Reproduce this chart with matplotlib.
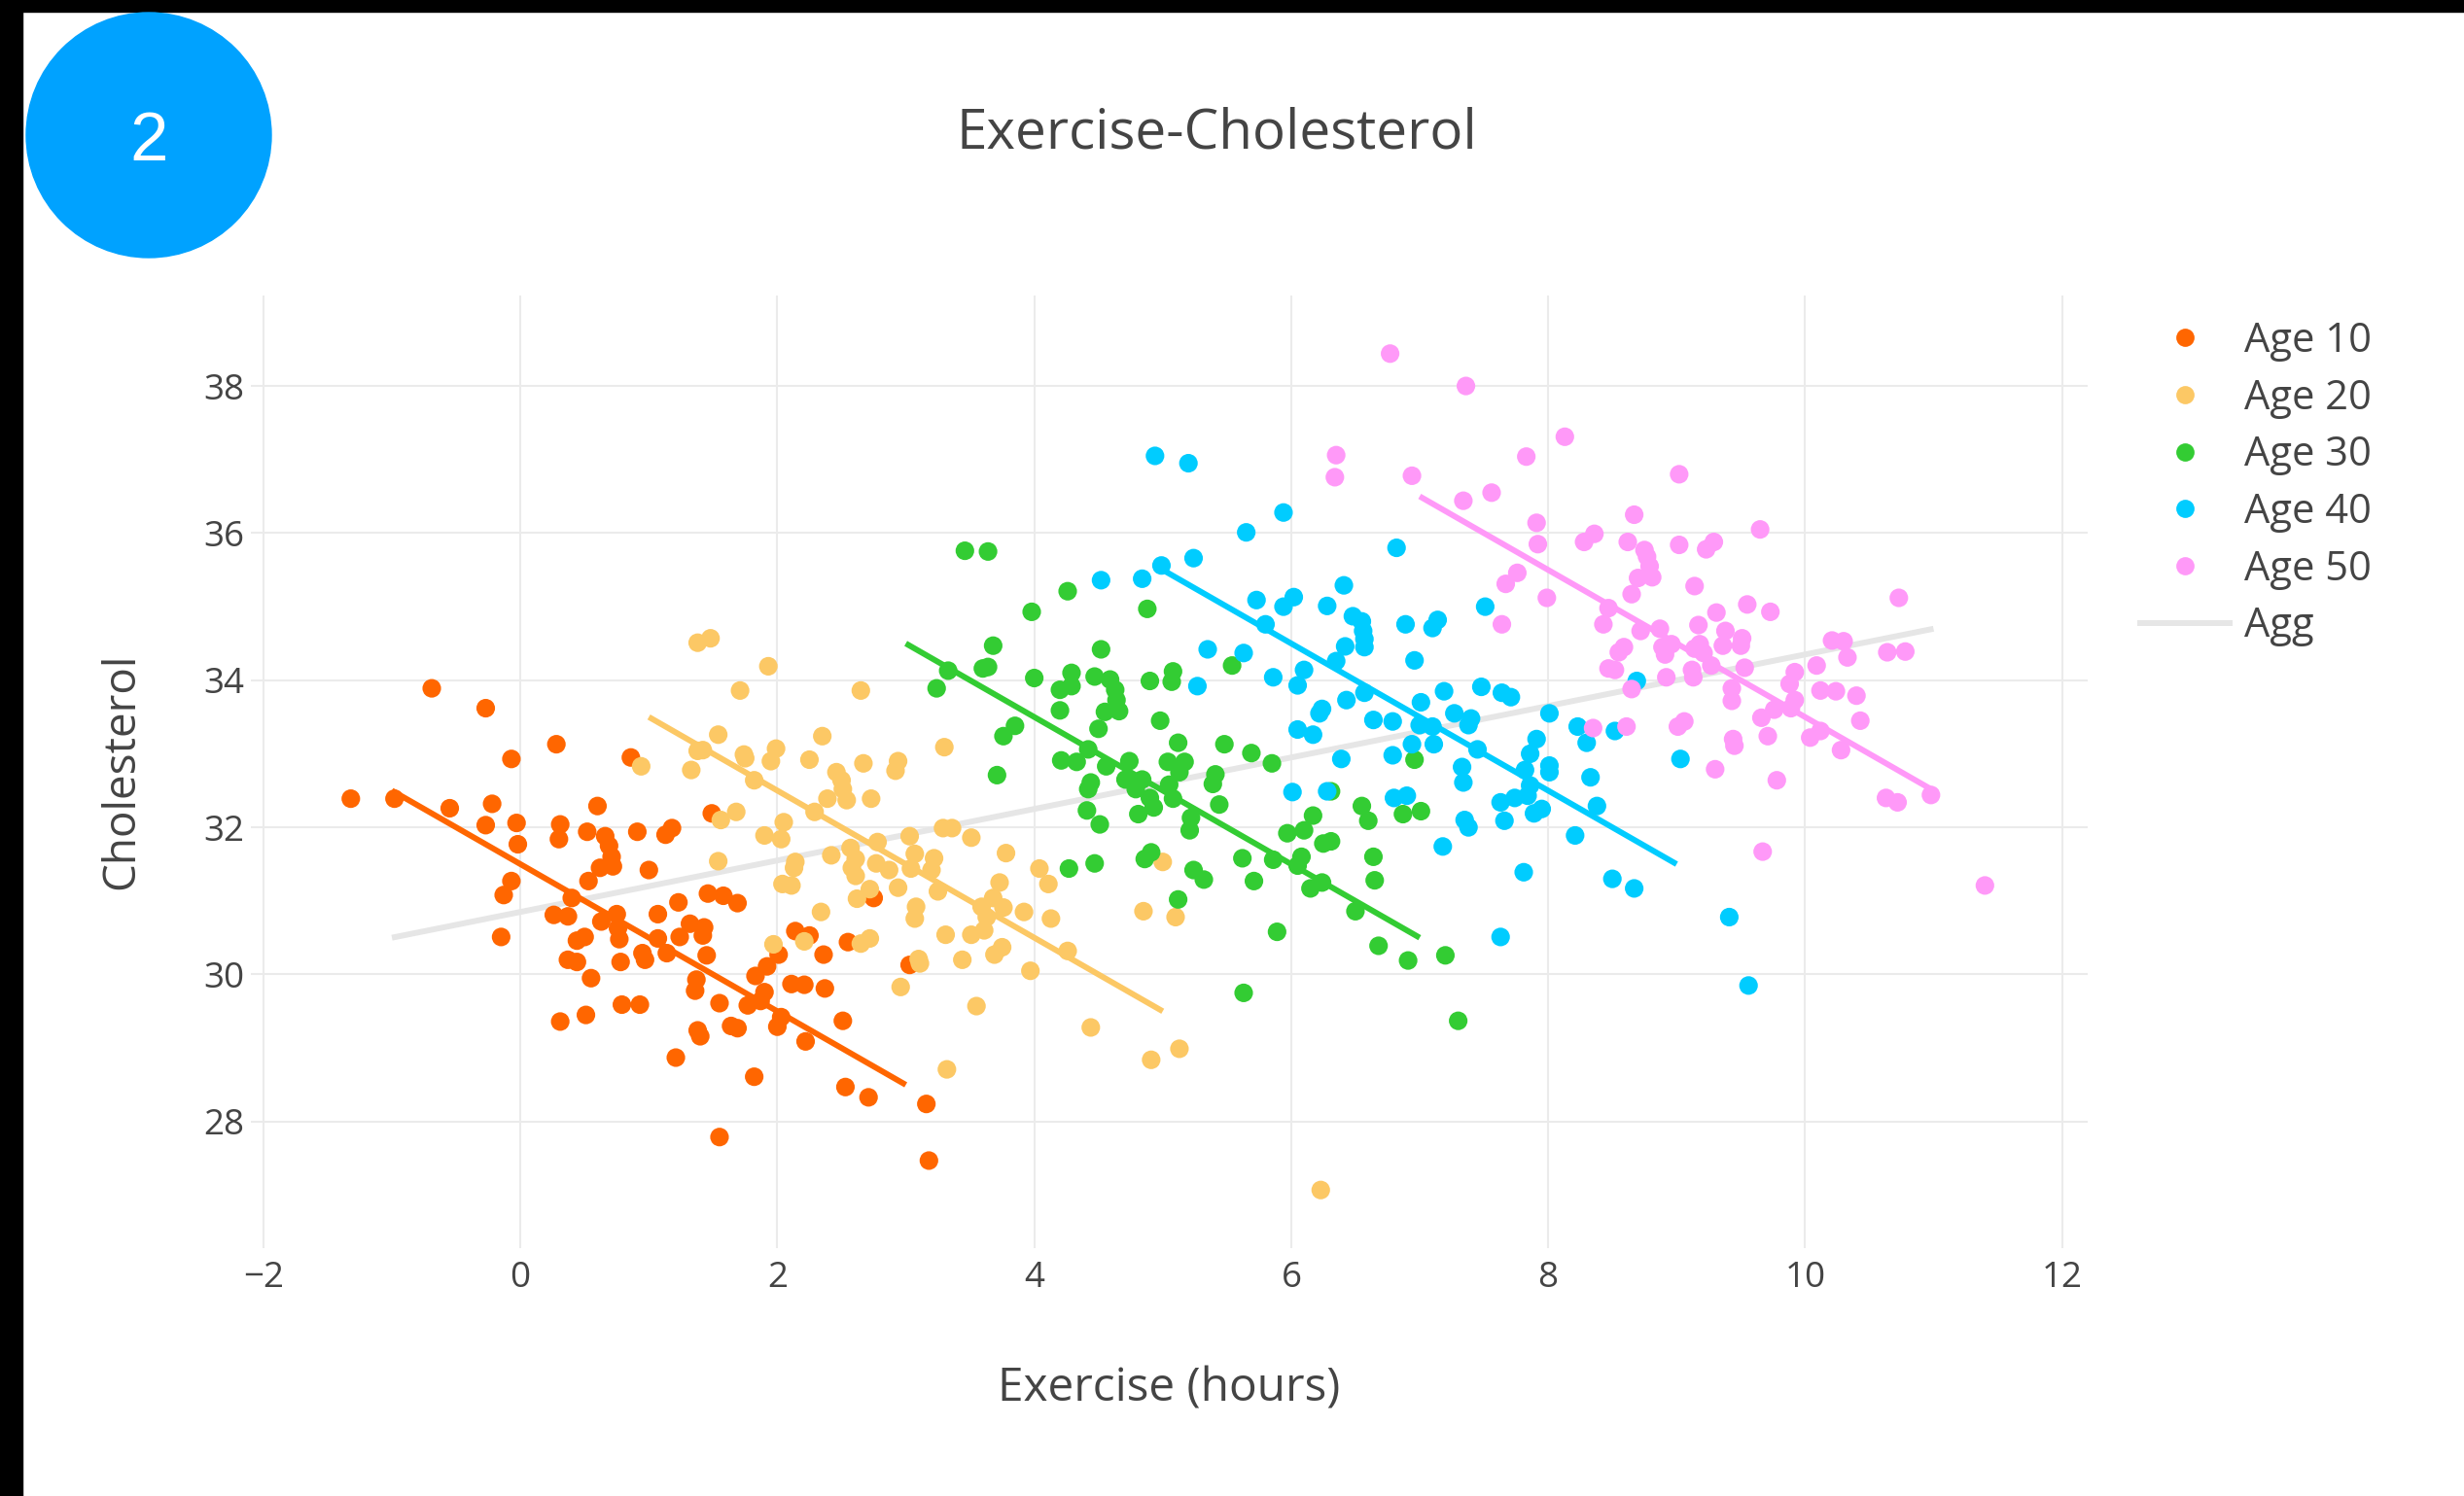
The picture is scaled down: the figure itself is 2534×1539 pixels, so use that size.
import matplotlib
matplotlib.use('Agg')
import matplotlib.pyplot as plt
from matplotlib.patches import Rectangle, Ellipse
from matplotlib.lines import Line2D

plt.rcParams['font.family'] = ['Open Sans', 'DejaVu Sans']

# ---------------- data ----------------
age10 = [(-1.32,32.39),(-0.98,32.39),(-0.69,33.89),(-0.27,33.62),(-0.55,32.26),(-0.22,32.32),(-0.07,32.93),(0.28,33.13),
         (-0.27,32.03),(-0.03,32.06),(-0.02,31.77),(-0.07,31.27),(-0.13,31.08),(-0.15,30.51),(0.31,32.04),(0.30,31.84),
         (0.52,31.94),(0.60,32.29),(0.86,32.95),(0.66,31.88),(0.69,31.75),(0.71,31.60),(0.62,31.45),(0.72,31.47),
         (0.53,31.27),(0.91,31.94),(1.13,31.90),(1.18,31.99),(1.00,31.42),(1.49,32.19),(0.40,31.04),(0.26,30.81),
         (0.37,30.79),(0.63,30.72),(0.75,30.82),(0.76,30.63),(0.77,30.48),(0.44,30.46),(0.50,30.51),(0.37,30.20),
         (0.44,30.17),(0.55,29.95),(0.78,30.17),(0.31,29.36),(0.51,29.45),(0.79,29.59),(0.93,29.59),(0.95,30.29),
         (0.97,30.20),(1.07,30.82),(1.07,30.49),(1.14,30.29),(1.23,30.98),(1.24,30.51),(1.32,30.69),(1.43,30.64),
         (1.42,30.53),(1.45,30.26),(1.46,31.10),(1.58,31.07),(1.69,30.97),(1.21,28.87),(1.37,29.93),(1.36,29.78),
         (1.38,29.24),(1.40,29.16),(1.55,29.61),(1.64,29.30),(1.69,29.27),(1.55,27.79),(1.82,28.61),(1.77,29.58),
         (1.83,29.98),(1.87,29.64),(1.90,29.76),(1.92,30.11),(2.01,30.27),(2.00,29.29),(2.03,29.42),(2.14,30.59),
         (2.25,30.53),(2.11,29.87),(2.21,29.86),(2.36,30.27),(2.37,29.81),(2.22,29.09),(2.51,29.37),(2.53,28.47),
         (2.71,28.33),(2.55,30.44),(2.75,31.04),(3.03,30.13),(3.16,28.24),(3.18,27.47)]

age20 = [(0.94,32.83),(1.38,34.51),(1.48,34.57),(1.93,34.19),(1.71,33.86),(2.65,33.86),(1.54,33.26),(1.38,33.04),
         (1.42,33.05),(1.33,32.78),(1.74,32.99),(1.75,32.94),(1.82,32.64),(1.99,33.07),(1.95,32.90),(2.35,33.24),
         (2.25,32.92),(2.46,32.75),(2.50,32.64),(2.51,32.52),(2.54,32.37),(2.67,32.87),(2.39,32.39),(2.29,32.21),
         (2.73,32.39),(1.68,32.21),(1.56,32.10),(1.54,31.54),(2.05,32.07),(1.90,31.89),(2.03,31.84),(2.14,31.53),
         (2.13,31.45),(2.42,31.62),(2.57,31.72),(2.61,31.57),(2.58,31.45),(2.61,31.34),(2.04,31.23),(2.11,31.21),
         (2.62,31.03),(2.72,31.16),(2.34,30.85),(1.97,30.41),(2.21,30.45),(2.65,30.42),(2.72,30.49),
         (3.30,33.09),(2.94,32.90),(2.92,32.77),(3.03,31.88),(3.29,31.99),(3.36,31.99),(3.51,31.86),(2.78,31.80),
         (3.78,31.65),(3.07,31.64),(3.22,31.58),(2.77,31.51),(2.87,31.42),(3.04,31.44),(3.20,31.42),(2.94,31.18),
         (3.25,31.13),(3.73,31.25),(4.04,31.44),(4.11,31.23),(3.59,30.92),(3.68,31.04),(3.76,30.91),(3.92,30.85),
         (4.13,30.76),(3.08,30.92),(3.07,30.76),(3.63,30.78),(3.61,30.60),(3.51,30.54),(3.31,30.54),(3.75,30.37),
         (3.69,30.27),(3.44,30.20),(3.10,30.21),(3.11,30.15),(4.26,30.32),(3.97,30.05),(2.96,29.83),(3.55,29.57),
         (4.85,30.86),(5.10,30.78),(5.00,31.53),(4.44,29.28),(3.32,28.71),(4.91,28.84),(5.13,28.99),(6.23,27.07)]

age30 = [(3.46,35.76),(3.64,35.75),(4.26,35.21),(3.98,34.93),(4.88,34.97),(3.68,34.47),(4.52,34.42),(3.33,34.13),
         (3.60,34.16),(3.64,34.18),(3.24,33.89),(4.00,34.03),(4.29,34.10),(4.29,33.92),(4.20,33.87),(4.47,34.05),
         (4.59,34.01),(4.63,33.87),(4.64,33.73),(4.55,33.57),(4.66,33.58),(4.20,33.59),(4.90,33.99),(5.08,34.12),
         (5.07,33.98),(5.54,34.20),(4.50,33.34),(4.98,33.45),(3.85,33.38),(3.76,33.24),(3.71,32.71),(4.21,32.91),
         (4.33,32.89),(4.42,33.06),(4.56,32.83),(4.74,32.90),(4.44,32.61),(4.42,32.52),(4.71,32.65),(4.79,32.52),
         (4.84,32.65),(5.12,33.15),(5.04,32.89),(5.17,32.89),(5.13,32.75),(5.05,32.58),(5.08,32.39),(4.90,32.40),
         (4.93,32.27),(4.81,32.18),(4.41,32.23),(4.51,32.04),(5.48,33.13),(5.69,33.01),(5.85,32.87),(5.41,32.72),
         (5.39,32.59),(5.44,32.31),(5.22,32.13),(5.21,31.96),(4.27,31.44),(4.47,31.51),(4.86,31.57),(4.91,31.66),
         (5.24,31.42),(5.32,31.29),(5.12,31.02),(5.62,31.58),(5.71,31.27),(5.86,31.56),(5.97,31.92),(6.10,31.96),
         (6.17,32.16),(6.25,31.78),(6.31,31.81),(6.08,31.60),(6.05,31.48),(6.15,31.17),(6.24,31.25),(6.55,32.29),
         (6.60,32.09),(6.64,31.60),(6.65,31.28),(6.50,30.86),(5.89,30.58),(6.68,30.39),(6.91,30.19),(7.20,30.26),
         (5.63,29.75),(7.30,29.37),(6.87,32.18),(7.01,32.22),(6.96,32.92),(6.31,32.49)]

age40 = [(4.94,37.05),(5.20,36.95),(5.94,36.28),(5.65,36.01),(6.82,35.80),(5.24,35.66),(4.99,35.56),(4.84,35.38),
         (4.52,35.36),(6.41,35.29),(5.73,35.09),(6.02,35.13),(5.94,35.00),(6.28,35.01),(5.80,34.76),(6.48,34.87),
         (6.55,34.80),(6.56,34.67),(6.57,34.56),(6.57,34.45),(6.42,34.46),(6.89,34.76),(7.10,34.71),(7.14,34.82),
         (7.51,35.00),(5.35,34.42),(5.63,34.37),(5.27,33.92),(6.35,34.26),(6.96,34.27),(6.10,34.14),(5.86,34.04),
         (6.05,33.93),(6.43,33.73),(6.57,33.83),(7.19,33.85),(7.48,33.91),(7.64,33.83),(7.71,33.77),(8.69,33.99),
         (6.05,33.33),(6.17,33.26),(6.22,33.55),(6.24,33.61),(6.64,33.46),(6.79,33.44),(7.01,33.70),(7.00,33.39),
         (7.10,33.37),(7.27,33.55),(7.40,33.48),(7.38,33.39),(8.01,33.55),(7.91,33.20),(8.23,33.37),(8.30,33.15),
         (8.52,33.31),(7.11,33.13),(6.94,33.13),(6.79,32.98),(6.39,32.93),(7.45,33.06),(7.33,32.82),(7.86,33.00),
         (8.01,32.84),(7.34,32.61),(6.01,32.48),(6.28,32.49),(6.80,32.40),(6.90,32.43),(7.63,32.34),(7.66,32.09),
         (7.35,32.10),(7.38,32.00),(7.18,31.74),(7.63,30.51),(7.82,32.78),(8.01,32.75),(7.86,32.57),(7.84,32.43),
         (7.74,32.40),(8.33,32.68),(8.38,32.29),(7.89,32.19),(7.95,32.25),(8.21,31.89),(7.81,31.39),(8.50,31.30),
         (8.67,31.17),(9.03,32.93),(9.41,30.78),(9.56,29.85)]

age50 = [(6.77,38.44),(7.36,38.00),(8.13,37.31),(6.35,37.06),(6.34,36.76),(6.94,36.78),(7.83,37.04),(7.34,36.44),
         (7.56,36.55),(7.91,36.14),(7.92,35.85),(8.28,35.88),(8.36,35.99),(8.67,36.25),(8.62,35.88),(7.76,35.46),
         (7.67,35.31),(7.99,35.12),(7.64,34.76),(8.65,35.17),(8.70,35.39),(8.75,35.77),(8.47,34.98),(8.43,34.76),
         (8.72,34.67),(8.59,34.45),(8.55,34.38),(8.47,34.16),(8.52,34.14),(8.35,33.35),(8.61,33.37),(8.65,33.88),
         (9.02,36.80),(8.77,35.68),(8.79,35.55),(8.81,35.40),(9.02,35.84),(9.23,35.78),(9.29,35.88),(9.65,36.05),
         (9.14,35.28),(8.87,34.70),(9.31,34.92),(9.55,35.03),(9.73,34.93),(10.73,35.12),(9.17,34.75),(8.89,34.45),
         (8.96,34.49),(8.91,34.35),(9.14,34.43),(9.21,34.37),(9.18,34.49),(9.38,34.67),(9.36,34.47),(9.50,34.47),
         (9.51,34.57),(9.53,34.17),(9.12,34.14),(9.13,34.04),(9.27,34.20),(8.92,34.04),(9.43,33.89),(9.43,33.72),
         (10.21,34.54),(10.30,34.53),(10.33,34.31),(10.64,34.38),(10.78,34.39),(10.09,34.20),(9.92,34.11),(9.88,33.95),
         (9.92,33.73),(9.89,33.62),(9.76,33.60),(10.12,33.86),(10.24,33.85),(10.40,33.79),(10.43,33.45),(9.66,33.49),
         (10.12,33.31),(10.04,33.22),(10.28,33.05),(9.71,33.24),(9.44,33.20),(9.45,33.11),(9.01,33.37),(9.06,33.44),
         (9.30,32.79),(9.78,32.64),(10.63,32.40),(10.72,32.34),(10.98,32.44),(9.67,31.67),(11.40,31.21)]

group_names = ['Age 10', 'Age 20', 'Age 30', 'Age 40', 'Age 50']
group_points = [age10, age20, age30, age40, age50]
group_colors = ['#FF6600', '#FCC865', '#33CC33', '#00CCFF', '#FF99F8']

# per-group fit lines (x start, x end, y start, y end)
fit_x0 = [-1, 1, 3, 5, 7]
fit_x1 = [3, 5, 7, 9, 11]
fit_y0 = [32.5, 33.5, 34.5, 35.5, 36.5]
fit_y1 = [28.5, 29.5, 30.5, 31.5, 32.5]

# aggregate fit line
agg_x = [-1, 11]
agg_y = [30.5, 34.7]

x_ticks = [-2, 0, 2, 4, 6, 8, 10, 12]
y_ticks = [28, 30, 32, 34, 36, 38]

# ---------------- figure ----------------
W, H = 2534, 1539
fig = plt.figure(figsize=(W / 100, H / 100), dpi=100)
fig.patch.set_facecolor('white')

ax = fig.add_axes([258 / W, 1 - 1284 / H, (2147 - 258) / W, (1284 - 304) / H])
ax.set_xlim(-2.098, 12.2)
ax.set_ylim(26.28, 39.23)
ax.set_xticks(x_ticks)
ax.set_yticks(y_ticks)
ax.set_xticklabels(['\u22122' if t < 0 else str(t) for t in x_ticks])
ax.grid(True, color='#EBEBEB', linewidth=1.5)
ax.set_axisbelow(True)
for s in ax.spines.values():
    s.set_visible(False)
ax.tick_params(axis='both', length=0, labelsize=26.5, labelcolor='#444444')
ax.tick_params(axis='x', pad=9)
ax.tick_params(axis='y', pad=5)

LW = 4.3
ax.plot(agg_x, agg_y, color='#E6E6E6', linewidth=LW, zorder=2, solid_capstyle='butt')
for i, (name, pts, col) in enumerate(zip(group_names, group_points, group_colors)):
    ax.plot([fit_x0[i], fit_x1[i]], [fit_y0[i], fit_y1[i]], color=col, linewidth=LW, zorder=2.5,
            solid_capstyle='butt')
    xs = [p[0] for p in pts]
    ys = [p[1] for p in pts]
    ax.scatter(xs, ys, s=190, color=col, edgecolors='none', zorder=3)

# legend
handles = [Line2D([], [], marker='o', linestyle='', markersize=13.5, color=c, markeredgewidth=0)
           for c in group_colors]
handles.append(Line2D([], [], color='#E6E6E6', linewidth=LW))
labels = group_names + ['Agg']
fig.legend(handles, labels, loc='upper left', bbox_to_anchor=(2201 / W, 1 - 330 / H),
           frameon=False, borderpad=0, borderaxespad=0, handlelength=2.21, handletextpad=0.36,
           labelspacing=0.40, fontsize=30, labelcolor='#444444')

# titles
fig.text(1251 / W, 1 - 138 / H, 'Exercise-Cholesterol', ha='center', va='center', fontsize=40.8, color='#444444')
fig.text(1202 / W, 1 - 1429 / H, 'Exercise (hours)', ha='center', va='center', fontsize=34.4, color='#444444')
fig.text(125 / W, 1 - 793 / H, 'Cholesterol', ha='center', va='center', rotation=90, fontsize=33,
         color='#444444')

# frame decorations
fig.patches.append(Rectangle((0, 1 - 12 / H), 1, 12 / H, transform=fig.transFigure, color='black', zorder=10))
fig.patches.append(Rectangle((0, 0), 23 / W, 1, transform=fig.transFigure, color='black', zorder=10))
fig.patches.append(Ellipse((153 / W, 1 - 139 / H), 252 / W, 252 / H, transform=fig.transFigure,
                           color='#00A2FF', zorder=11))
fig.text(153 / W, 1 - 165 / H, '2', ha='center', va='baseline', fontsize=51, color='white',
         family=['Liberation Sans', 'DejaVu Sans'], zorder=12)

fig.savefig('out.png', dpi=100)
